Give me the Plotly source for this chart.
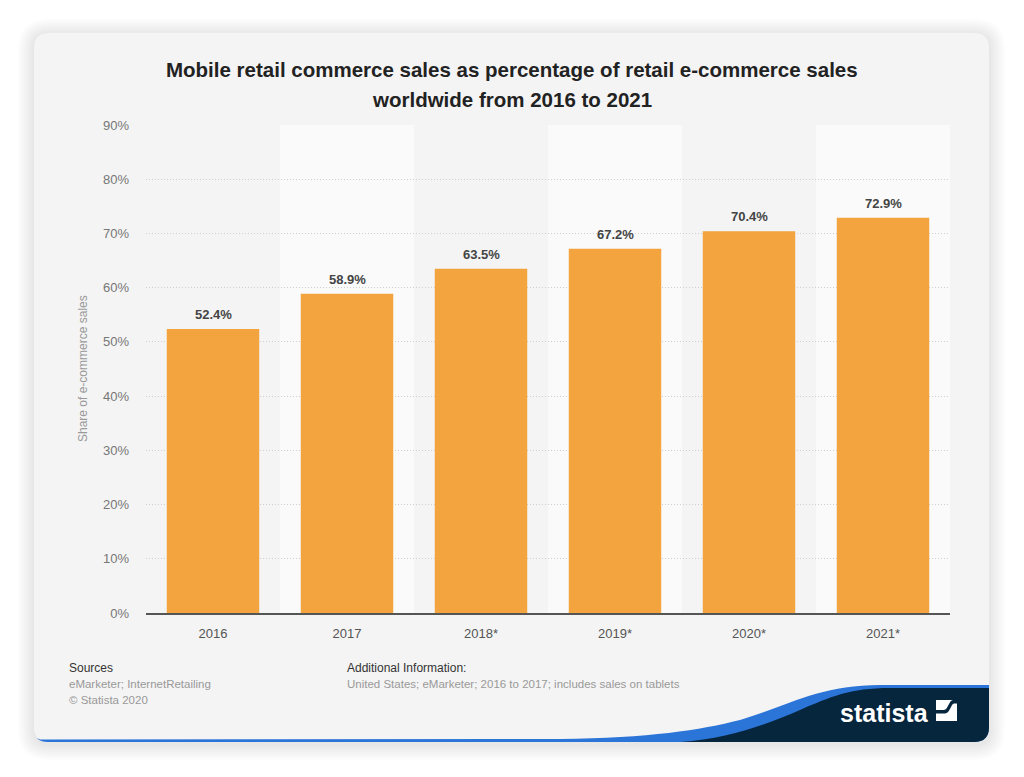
import plotly.graph_objects as go

# ---- data ----
categories = ["2016", "2017", "2018*", "2019*", "2020*", "2021*"]
values = [52.4, 58.9, 63.5, 67.2, 70.4, 72.9]
y_ticks = [0, 10, 20, 30, 40, 50, 60, 70, 80, 90]
y_tick_labels = [f"{v}%" for v in y_ticks]
title_lines = ["Mobile retail commerce sales as percentage of retail e-commerce sales",
               "worldwide from 2016 to 2021"]
y_title = "Share of e-commerce sales"

# page has an 8px body margin; work in page pixel coordinates
OFF = 8
WF, HF = 1008, 761            # figure size
L, R, T, B = 146, 950, 125, 613  # plot area in page pixels

def fx(px):
    return (px - L) / (R - L)

def fy(py):
    return (B - py) / (B - T)

def P(px, py):
    return f"{fx(px):.5f},{fy(py):.5f}"

def rrect(x0, y0, x1, y1, r):
    return (f"M{P(x0 + r, y0)} L{P(x1 - r, y0)} Q{P(x1, y0)} {P(x1, y0 + r)} "
            f"L{P(x1, y1 - r)} Q{P(x1, y1)} {P(x1 - r, y1)} L{P(x0 + r, y1)} "
            f"Q{P(x0, y1)} {P(x0, y1 - r)} L{P(x0, y0 + r)} Q{P(x0, y0)} {P(x0 + r, y0)} Z")

FONT = "Liberation Sans, Arial, sans-serif"
shapes = []

# card shadow
for k in range(1, 9):
    d = 2 * k
    shapes.append(dict(type="path", xref="paper", yref="paper", layer="below",
                       path=rrect(34 - d, 33 - d + 2, 989 + d, 742 + d + 2, 15 + d),
                       fillcolor="rgba(0,0,0,0.010)", line=dict(width=0)))
# card
shapes.append(dict(type="path", xref="paper", yref="paper", layer="below",
                   path=rrect(34, 33, 989, 742, 15),
                   fillcolor="#f4f4f4", line=dict(width=0)))
# alternating column bands
for i in range(len(categories)):
    if i % 2 == 1:
        shapes.append(dict(type="rect", xref="x", yref="paper", layer="below",
                           x0=i - 0.5, x1=i + 0.5, y0=0, y1=1,
                           fillcolor="#fafafa", line=dict(width=0)))

# blue wave
blue_path = (f"M{P(40, 739.5)} L{P(560, 739)} C{P(650, 738)} {P(700, 730)} {P(740, 720)} "
             f"C{P(790, 705)} {P(820, 685)} {P(880, 685)} L{P(989, 685)} L{P(989, 727)} "
             f"Q{P(989, 742)} {P(974, 742)} L{P(48, 742)} Q{P(40, 742)} {P(37, 738)} Z")
shapes.append(dict(type="path", xref="paper", yref="paper", layer="above",
                   path=blue_path, fillcolor="#2b74d8", line=dict(width=0)))
dark_path = (f"M{P(680, 742)} C{P(730, 739)} {P(770, 723)} {P(800, 710)} "
             f"C{P(830, 697)} {P(850, 688)} {P(890, 688)} L{P(989, 688)} L{P(989, 727)} "
             f"Q{P(989, 742)} {P(974, 742)} Z")
shapes.append(dict(type="path", xref="paper", yref="paper", layer="above",
                   path=dark_path, fillcolor="#06263d", line=dict(width=0)))
# statista icon
shapes.append(dict(type="rect", xref="paper", yref="paper", layer="above",
                   x0=fx(936), x1=fx(957), y0=fy(721), y1=fy(700),
                   fillcolor="white", line=dict(width=0)))
icon_path = (f"M{P(936, 710)} L{P(944, 710)} C{P(948, 710)} {P(949, 700)} {P(953, 700)} "
             f"L{P(957, 700)} L{P(957, 703.5)} L{P(954, 703.5)} C{P(951, 703.5)} {P(950, 713.5)} "
             f"{P(945, 713.5)} L{P(936, 713.5)} Z")
shapes.append(dict(type="path", xref="paper", yref="paper", layer="above",
                   path=icon_path, fillcolor="#06263d", line=dict(width=0)))

annotations = []
# title
for line, py in zip(title_lines, [69, 99]):
    annotations.append(dict(text=f"<b>{line}</b>", x=fx(512), y=fy(py), xref="paper", yref="paper",
                            xanchor="center", yanchor="middle", showarrow=False,
                            font=dict(family=FONT, size=20.5, color="#222222")))
# footer
footer = [
    dict(text="Sources", x=fx(67), y=fy(668), font=dict(size=12, color="#333333")),
    dict(text="eMarketer; InternetRetailing", x=fx(67), y=fy(684), font=dict(size=11.5, color="#999999")),
    dict(text="© Statista 2020", x=fx(67), y=fy(700), font=dict(size=11.5, color="#999999")),
    dict(text="Additional Information:", x=fx(345), y=fy(668), font=dict(size=12, color="#333333")),
    dict(text="United States; eMarketer; 2016 to 2017; includes sales on tablets", x=fx(345), y=fy(684),
         font=dict(size=11.5, color="#999999")),
]
for a in footer:
    a.update(xref="paper", yref="paper", xanchor="left", yanchor="middle", showarrow=False)
    a["font"]["family"] = FONT
annotations += footer
# statista wordmark
annotations.append(dict(text="<b>statista</b>", x=fx(884), y=fy(713), xref="paper", yref="paper",
                        xanchor="center", yanchor="middle", showarrow=False,
                        font=dict(family=FONT, size=25, color="white")))
# y-axis title
annotations.append(dict(text=y_title, x=fx(83), y=fy(369), xref="paper", yref="paper",
                        xanchor="center", yanchor="middle", showarrow=False, textangle=-90,
                        font=dict(family=FONT, size=12, color="#999999")))
# value labels
for i, v in enumerate(values):
    annotations.append(dict(text=f"<b>{v:.1f}%</b>", x=i, y=v, xref="x", yref="y",
                            xanchor="center", yanchor="bottom", yshift=5, showarrow=False,
                            font=dict(family=FONT, size=13, color="#444444")))

fig = go.Figure(go.Bar(
    x=categories, y=values,
    marker=dict(color="#f3a43f", line=dict(width=0)),
    hoverinfo="x+y",
))

fig.update_layout(
    width=WF, height=HF,
    margin=dict(l=L - OFF, r=OFF + WF - R, t=T - OFF, b=OFF + HF - B, pad=0),
    paper_bgcolor="white", plot_bgcolor="rgba(0,0,0,0)",
    bargap=0.31, showlegend=False,
    shapes=shapes, annotations=annotations,
    font=dict(family=FONT),
)
fig.update_xaxes(type="category", showgrid=False, showline=True, linecolor="#555555", linewidth=1.5,
                 ticks="", tickfont=dict(family=FONT, size=13, color="#555555"),
                 ticklabelstandoff=8)
fig.update_yaxes(range=[0, 90], tickvals=y_ticks, ticktext=y_tick_labels,
                 showgrid=True, gridcolor="#cfcfcf", griddash="1px,2px", gridwidth=1,
                 zeroline=False, showline=False, ticks="",
                 tickfont=dict(family=FONT, size=13, color="#777777"),
                 ticklabelstandoff=16)

fig.write_html("out.html")
